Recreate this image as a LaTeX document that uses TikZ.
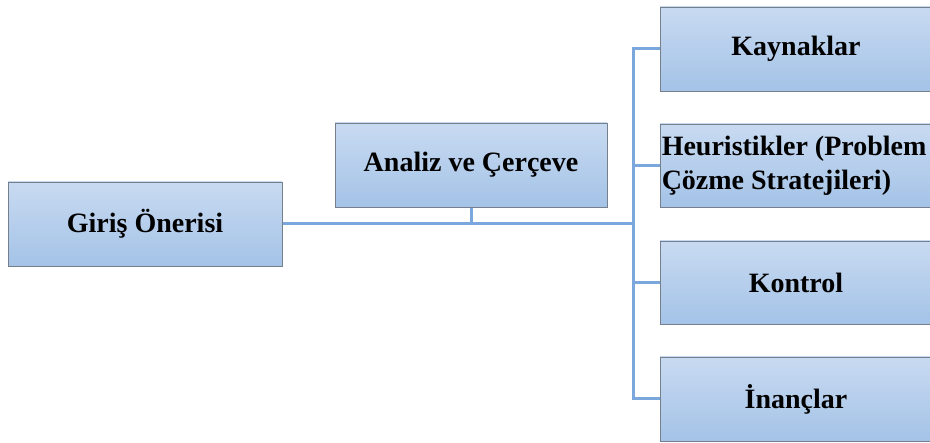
\documentclass[tikz,border=0pt]{standalone}
\usepackage{fontspec}
\setmainfont{Liberation Serif}
\usetikzlibrary{backgrounds}
\begin{document}
\begin{tikzpicture}[x=1pt,y=-1pt,
  box/.style={draw={rgb,255:red,118;green,128;blue,140}, line width=0.9pt,
    top color={rgb,255:red,200;green,218;blue,241},
    bottom color={rgb,255:red,164;green,195;blue,231},
    minimum width=272pt, minimum height=84pt, inner sep=0pt,
    font=\fontsize{28}{34}\selectfont\bfseries, text=black},
  link/.style={draw={rgb,255:red,122;green,167;blue,220}, line width=3pt,
    line cap=rect}]
\clip (0,0) rectangle (930,443);

% boxes
\node[box, minimum width=274pt] (gir) at (145,224) {Giriş Önerisi};
\node[box] (an) at (471,165) {Analiz ve Çerçeve};
\node[box] (kay) at (796,49) {Kaynaklar};
\node[box, minimum height=83pt] (heu) at (796,165.5) {};
\node[anchor=west, align=left, inner sep=0pt, xshift=2pt,
  font=\fontsize{28}{34}\selectfont\bfseries] (heut) at (heu.west)
  {Heuristikler (Problem\\Çözme Stratejileri)};
\node[box, minimum height=83pt] (kon) at (796,282.5) {Kontrol};
\node[box] (ina) at (796,399) {İnançlar};

% junction and trunk ends
\coordinate (jn) at (633,224);
\coordinate (top) at (jn |- kay.west);
\coordinate (bot) at (jn |- ina.west);

% connectors, behind the boxes
\begin{scope}[on background layer]
\fill[white] (0,0) rectangle (930,443);
\draw[link] (gir.east) -- (jn);
\draw[link] (an.south) -- (an.south |- jn);
\draw[link] (top) -- (bot);
\draw[link] (top) -- (kay.west);
\draw[link] (jn |- heu.west) -- (heu.west);
\draw[link] (jn |- kon.west) -- (kon.west);
\draw[link] (bot) -- (ina.west);
\end{scope}
\end{tikzpicture}
\end{document}
